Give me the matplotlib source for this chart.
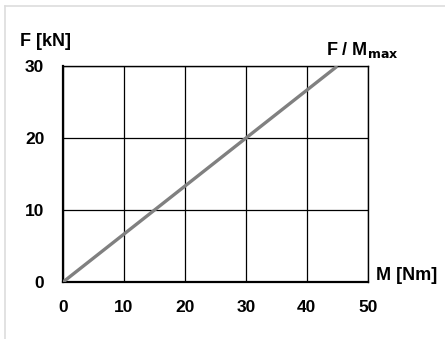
import matplotlib.pyplot as plt
from matplotlib.lines import Line2D

# dati
m_vals = [0, 45]
f_vals = [0, 30]
x_ticks = [0, 10, 20, 30, 40, 50]
y_ticks = [0, 10, 20, 30]

plt.rcParams['font.family'] = ['Liberation Sans', 'DejaVu Sans']
plt.rcParams['font.weight'] = 'bold'

fig = plt.figure(figsize=(4.45, 3.39), dpi=100)
ax = fig.add_axes([0.1416, 0.168, 0.685, 0.637])

ax.plot(m_vals, f_vals, color='#808080', linewidth=2.4, solid_capstyle='butt', zorder=3)

ax.set_xlim(0, 50)
ax.set_ylim(0, 30)
ax.set_xticks(x_ticks)
ax.set_yticks(y_ticks)
ax.grid(True, color='black', linewidth=0.9)
for s in ax.spines.values():
    s.set_linewidth(1.0)
ax.spines['bottom'].set_linewidth(1.6)
ax.spines['left'].set_linewidth(1.6)
ax.tick_params(length=0, labelsize=12.5, pad=13)
for lab in ax.get_xticklabels() + ax.get_yticklabels():
    lab.set_fontweight('bold')
ax.tick_params(axis='y', pad=13.5)

# etichette assi
fig.text(20 / 445, 1 - 42 / 339, 'F [kN]', fontsize=13, fontweight='bold', va='center', ha='left')
fig.text(376 / 445, 1 - 275 / 339, 'M [Nm]', fontsize=13, fontweight='bold', va='center', ha='left')
fig.text(326 / 445, 1 - 50 / 339, r'F / M$_{\mathbf{max}}$', fontsize=13, fontweight='bold', va='center', ha='left')

# cornice grigia
fig.add_artist(Line2D([5 / 445, 5 / 445], [0, 1 - 6 / 339], color='#dddddd', linewidth=1.2))
fig.add_artist(Line2D([5 / 445, 1], [1 - 6 / 339, 1 - 6 / 339], color='#dddddd', linewidth=1.2))

fig.savefig('out.png', dpi=100)
